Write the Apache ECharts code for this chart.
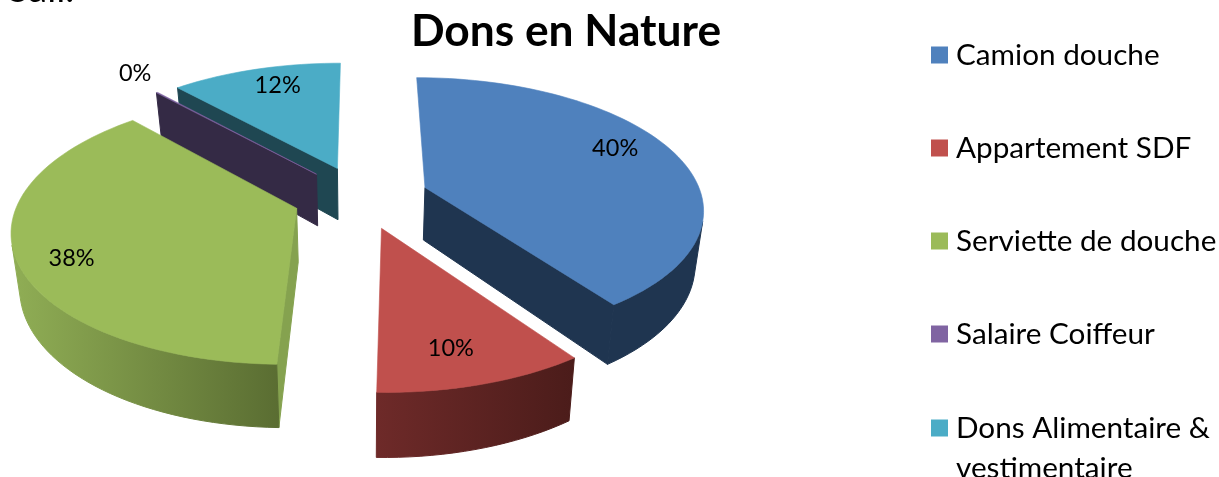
<!DOCTYPE html>
<html><head><meta charset="utf-8">
<style>html,body{margin:0;padding:0;background:#fff}#c{width:1219px;height:477px}</style>
<script src="https://cdn.jsdelivr.net/npm/echarts@6/dist/echarts.min.js"></script>
</head><body><div id="c"></div>
<script>
const categories = ['Camion douche','Appartement SDF','Serviette de douche','Salaire Coiffeur','Dons Alimentaire &\nvestimentaire'];
const values = [40.2, 10.2, 37.8, 0.1, 11.7];
const topColors = ['#4f81bd','#c0504d','#9bbb59','#8064a2','#4bacc6'];
const legendColors = topColors;
const wallFrom = ['#1f3550','#6e2a29','#90ae55','#342a45','#1f4752'];
const wallTo   = ['#1f3550','#4b1c1a','#5a6d32','#342a45','#1f4752'];
const edgeColors = ['#1f3550','#6e2a29','#85a24f','#342a45','#1f4752'];
const seriesZ = [5,6,4,3,2];
const labelRadius = [0.807,0.79,0.827,1.225,0.803];
const labelAngle = [66.3,165,244.4,320,341.3];

const CX=361, CY=197, A=277, B=129, P=0.15, EXPL=0.245, DEPTH=53, SHRINK=0.975, MIN_WALL=2000;
const rad=d=>d*Math.PI/180;
const total=values.reduce((a,b)=>a+b,0);
function proj(u,v,bottom){
  const s=1/(1-P*v);
  return bottom ? [CX+A*u*s*SHRINK, CY+B*v*s+DEPTH*s] : [CX+A*u*s, CY+B*v*s];
}
function area(pts){let t=0;for(let i=0;i<pts.length;i++){const p=pts[i],q=pts[(i+1)%pts.length];t+=p[0]*q[1]-q[0]*p[1];}return t;}
function renderSlice(idx){
  return function(params,api){
    const val=api.value(0);
    let before=0; for(let i=0;i<idx;i++) before+=values[i];
    const t0=before/total*360, t1=(before+val)/total*360, mid=(t0+t1)/2;
    const eu=EXPL*Math.sin(rad(mid)), ev=-EXPL*Math.cos(rad(mid));
    const N=Math.max(2,Math.ceil((t1-t0)/2));
    const disc=[]; for(let i=0;i<=N;i++){const t=rad(t0+(t1-t0)*i/N);disc.push([eu+Math.sin(t),ev-Math.cos(t)]);}
    const top=disc.map(d=>proj(d[0],d[1],false)), bot=disc.map(d=>proj(d[0],d[1],true));
    const aT=proj(eu,ev,false), aB=proj(eu,ev,true);
    const children=[];
    const poly=(points,fill,lw)=>({type:'polygon',shape:{points},style:{fill,stroke:fill,lineWidth:lw}});
    const w1=[aT,top[0],bot[0],aB], w2=[top[N],aT,aB,bot[N]];
    if(area(w1)<-MIN_WALL) children.push(poly(w1,edgeColors[idx],1));
    if(area(w2)<-MIN_WALL) children.push(poly(w2,edgeColors[idx],1));
    const up=[],lo=[];
    for(let i=0;i<N;i++){
      if(area([top[i],top[i+1],bot[i+1],bot[i]])<0){
        if(!up.length){up.push(top[i]);lo.push(bot[i]);}
        up.push(top[i+1]);lo.push(bot[i+1]);
      }
    }
    if(up.length){
      const pts=up.concat(lo.slice().reverse());
      const fill=new echarts.graphic.LinearGradient(0,0,1,0,[{offset:0,color:wallFrom[idx]},{offset:1,color:wallTo[idx]}]);
      children.push(poly(pts,fill,1));
    }
    children.push(poly([aT].concat(top),topColors[idx],0.6));
    const r=labelRadius[idx], th=rad(labelAngle[idx]);
    const lp=proj(eu+r*Math.sin(th),ev-r*Math.cos(th),false);
    children.push({type:'text',z2:50,style:{text:Math.round(val)+'%',x:lp[0],y:lp[1],align:'center',verticalAlign:'middle',
      fill:'#000',fontFamily:'Lato',fontSize:23.5}});
    return {type:'group',children};
  };
}
const legendBase={orient:'vertical',left:931,height:700,padding:0,itemWidth:17,itemHeight:17,itemGap:63,icon:'rect',selectedMode:false};
const chart=echarts.init(document.getElementById('c'),null,{renderer:'canvas'});
chart.setOption({
  animation:false,
  backgroundColor:'#fff',
  title:{text:'Dons en Nature',left:561,top:5,textAlign:'center',textStyle:{fontFamily:'Lato',fontWeight:'bold',fontSize:44.3,color:'#000'}},
  legend:[
    Object.assign({},legendBase,{top:40,
      textStyle:{fontFamily:'Lato',fontSize:29.7,color:'#000',lineHeight:30,padding:[0,0,0,3]},
      data:categories.slice(0,4)}),
    Object.assign({},legendBase,{top:368,
      formatter:n=>'\n'+n,
      textStyle:{fontFamily:'Lato',fontSize:29.7,color:'#000',lineHeight:40,padding:[0,0,0,3]},
      data:categories.slice(4)})
  ],
  graphic:[{type:'text',left:8,top:-29,style:{text:'Sali.',fontFamily:'Lato',fontSize:38,fill:'#000'}}],
  series:categories.map((name,i)=>({
    type:'custom',name,coordinateSystem:'none',silent:true,z:seriesZ[i],
    itemStyle:{color:legendColors[i]},
    data:[[values[i]]],
    renderItem:renderSlice(i)
  }))
});
</script></body></html>
